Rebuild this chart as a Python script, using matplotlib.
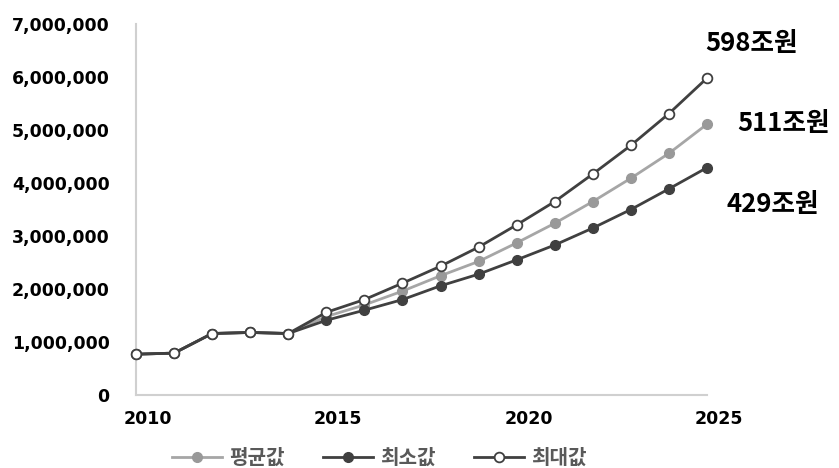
import matplotlib
matplotlib.use("Agg")
import matplotlib.pyplot as plt
import matplotlib.transforms as mtransforms
from matplotlib.ticker import FuncFormatter

plt.rcParams['font.family'] = ['Noto Sans CJK KR', 'DejaVu Sans']

# data (values in won)
years = list(range(2010, 2026))
avg_vals = [770000, 790000, 1160000, 1180000, 1160000, 1480000, 1700000, 1960000,
            2250000, 2520000, 2870000, 3240000, 3650000, 4090000, 4560000, 5110000]
min_vals = [770000, 790000, 1160000, 1180000, 1160000, 1410000, 1600000, 1800000,
            2060000, 2280000, 2550000, 2830000, 3150000, 3500000, 3890000, 4290000]
max_vals = [770000, 790000, 1160000, 1180000, 1160000, 1560000, 1800000, 2110000,
            2430000, 2790000, 3210000, 3650000, 4170000, 4710000, 5310000, 5980000]
series_names = ['평균값', '최소값', '최대값']
end_labels = ['511조원', '429조원', '598조원']

fig = plt.figure(figsize=(8.39, 4.68), dpi=100)
ax = fig.add_axes([0.1621, 0.156, 0.6806, 0.7927])

ax.plot(years, avg_vals, color='#a6a6a6', lw=2, marker='o', ms=7,
        mfc='#999999', mec='#999999', label=series_names[0], clip_on=False, zorder=3)
ax.plot(years, min_vals, color='#404040', lw=2, marker='o', ms=7,
        mfc='#404040', mec='#404040', label=series_names[1], clip_on=False, zorder=4)
ax.plot(years, max_vals, color='#404040', lw=2, marker='o', ms=7,
        mfc='white', mec='#404040', mew=1.3, label=series_names[2], clip_on=False, zorder=5)

ax.set_xlim(2010, 2025)
ax.set_ylim(0, 7000000)
ax.set_xticks([2010, 2015, 2020, 2025])
ax.set_yticks(range(0, 7000001, 1000000))
ax.yaxis.set_major_formatter(FuncFormatter(lambda v, p: f'{int(v):,}'))
ax.tick_params(length=0, labelsize=12.5)
ax.tick_params(axis='y', pad=19)
ax.tick_params(axis='x', pad=11)
for lab in ax.get_xticklabels() + ax.get_yticklabels():
    lab.set_fontweight('bold')
    lab.set_family('DejaVu Sans')
# shift year labels a bit to the right like the original
offset = mtransforms.ScaledTranslation(12 / 100, 0, fig.dpi_scale_trans)
for lab in ax.get_xticklabels():
    lab.set_transform(lab.get_transform() + offset)

for side in ['top', 'right']:
    ax.spines[side].set_visible(False)
for side in ['left', 'bottom']:
    ax.spines[side].set_color('#d0d0d0')
    ax.spines[side].set_linewidth(1.5)

# end-of-line value labels
ax.annotate(end_labels[2], (years[-1], max_vals[-1]), xytext=(45, 35),
            textcoords='offset pixels', ha='center', va='center',
            fontsize=18.5, fontweight='bold', annotation_clip=False)
ax.annotate(end_labels[0], (years[-1], avg_vals[-1]), xytext=(77, 1),
            textcoords='offset pixels', ha='center', va='center',
            fontsize=18.5, fontweight='bold', annotation_clip=False)
ax.annotate(end_labels[1], (years[-1], min_vals[-1]), xytext=(66, -37),
            textcoords='offset pixels', ha='center', va='center',
            fontsize=18.5, fontweight='bold', annotation_clip=False)

leg = fig.legend(loc='center', bbox_to_anchor=(0.452, 0.022), ncol=3, frameon=False,
                 fontsize=14.5, handlelength=2.5, handletextpad=0.35, columnspacing=1.9,
                 borderpad=0)
for t in leg.get_texts():
    t.set_color('#595959')
    t.set_fontweight('bold')

fig.savefig('out.png', dpi=100)
